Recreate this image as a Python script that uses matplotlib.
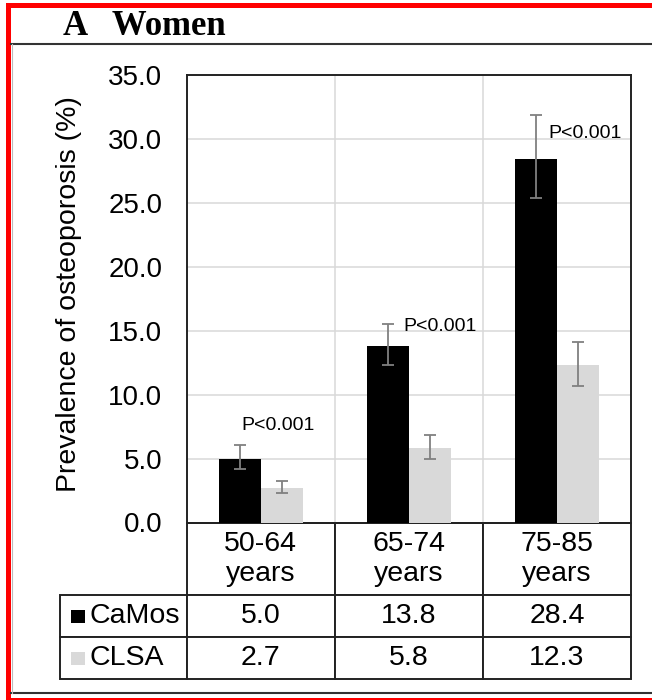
import numpy as np
import matplotlib
matplotlib.use('Agg')
import matplotlib.pyplot as plt
from matplotlib.patches import Rectangle
from matplotlib.lines import Line2D
from matplotlib.table import Table

plt.rcParams['font.family'] = ['Liberation Sans', 'DejaVu Sans']

# data
groups = ['50-64\nyears', '65-74\nyears', '75-85\nyears']
camos = [5.0, 13.8, 28.4]
clsa = [2.7, 5.8, 12.3]
camos_lo = [0.85, 1.5, 3.03]   # distance down to lower CI
camos_hi = [1.03, 1.7, 3.5]    # distance up to upper CI
clsa_lo = [0.37, 0.86, 1.62]
clsa_hi = [0.54, 1.02, 1.78]
p_text = ['P<0.001', 'P<0.001', 'P<0.001']
series = ['CaMos', 'CLSA']

W, H = 652, 700
fig = plt.figure(figsize=(W / 100, H / 100), dpi=100)

def fx(px):
    return px / W

def fy(py):
    return 1 - py / H

# axes placed in pixel terms
left, right, top, bottom = 186.7, 631.0, 75.0, 522.5
ax = fig.add_axes([fx(left), fy(bottom), fx(right - left), (bottom - top) / H])

x = np.arange(len(groups))
w = 0.282
ax.bar(x - w / 2, camos, w, color='black', zorder=3,
       yerr=[camos_lo, camos_hi],
       error_kw=dict(ecolor='#808080', elinewidth=1.3, capsize=4.5, capthick=1.3, zorder=4))
ax.bar(x + w / 2, clsa, w, color='#d9d9d9', zorder=3,
       yerr=[clsa_lo, clsa_hi],
       error_kw=dict(ecolor='#808080', elinewidth=1.3, capsize=4.5, capthick=1.3, zorder=4))

# p-value labels (manual placement like the original)
p_dx = [-0.13, -0.04, -0.06]
p_y = [7.55, 15.36, 30.46]
for i, t in enumerate(p_text):
    ax.text(x[i] + p_dx[i], p_y[i], t, ha='left', va='center', fontsize=14, zorder=5)

ax.set_xlim(-0.5, len(groups) - 0.5)
ax.set_ylim(0, 35)
ax.set_yticks(np.arange(0, 35.1, 5))
ax.set_yticklabels([f'{v:.1f}' for v in np.arange(0, 35.1, 5)])
ax.set_xticks([])
ax.tick_params(axis='y', length=0, pad=17.5, labelsize=20)
for v in np.arange(5, 35.1, 5):
    ax.axhline(v, color='#d9d9d9', lw=1.1, zorder=1)
for v in np.arange(0.5, len(groups) - 0.5, 1):
    ax.axvline(v, color='#d9d9d9', lw=1.1, zorder=1)
for s in ax.spines.values():
    s.set_linewidth(1.4)
    s.set_color('#222222')
ax.set_ylabel('Prevalence of osteoporosis (%)', fontsize=20.5)
ax.yaxis.set_label_coords(-0.236, 0.51)

# data table below the axis (bbox covers the data cells only)
lab_w = (left - 60) / (right - left)
head_h = (595 - bottom) / (bottom - top)
row_h = 42 / (bottom - top)
tab = Table(ax, bbox=[0, -(head_h + 2 * row_h), 1, head_h + 2 * row_h])
for j, g in enumerate(groups):
    tab.add_cell(0, j, width=1 / len(groups), height=head_h, text=g, loc='center')
for i, (name, vals) in enumerate(zip(series, [camos, clsa])):
    c = tab.add_cell(i + 1, -1, width=lab_w, height=row_h, text=name, loc='left')
    c.PAD = 0.235
    for j, v in enumerate(vals):
        tab.add_cell(i + 1, j, width=1 / len(groups), height=row_h, text=f'{v:.1f}', loc='center')
tab.auto_set_font_size(False)
tab.set_fontsize(20.5)
for c in tab.get_celld().values():
    c.set_linewidth(1.4)
    c.set_edgecolor('#222222')
ax.add_table(tab)

# legend keys in the row labels
sq_w = 14 / (right - left)
sq_h = 13 / (bottom - top)
for i, col in enumerate(['black', '#d9d9d9']):
    yc = -(head_h + row_h * (i + 0.5))
    ax.add_patch(Rectangle((-lab_w + 0.025, yc - sq_h / 2), sq_w, sq_h, facecolor=col,
                           lw=0, transform=ax.transAxes, clip_on=False))

# panel title and frame
fig.text(fx(63), fy(35), 'A   Women', family='Liberation Serif', weight='bold',
         fontsize=25, va='baseline', ha='left')
fig.add_artist(Line2D([fx(11), 1], [fy(43.5), fy(43.5)], color='#333333', lw=1.5))
fig.add_artist(Line2D([fx(11), 1], [fy(693), fy(693)], color='#333333', lw=1.5))
fig.add_artist(Line2D([fx(11.8), fx(11.8)], [fy(43.5), fy(693)], color='#bbbbbb', lw=0.8))
fig.add_artist(Rectangle((fx(6), 0), fx(5), 1 - 3 / H, facecolor='red', lw=0,
                         transform=fig.transFigure))
fig.add_artist(Rectangle((fx(6), fy(8)), 1 - fx(6), 5 / H, facecolor='red', lw=0,
                         transform=fig.transFigure))
fig.add_artist(Rectangle((fx(6), 0), 1 - fx(6), 2.5 / H, facecolor='red', lw=0,
                         transform=fig.transFigure))

plt.savefig('out.png', dpi=100)
